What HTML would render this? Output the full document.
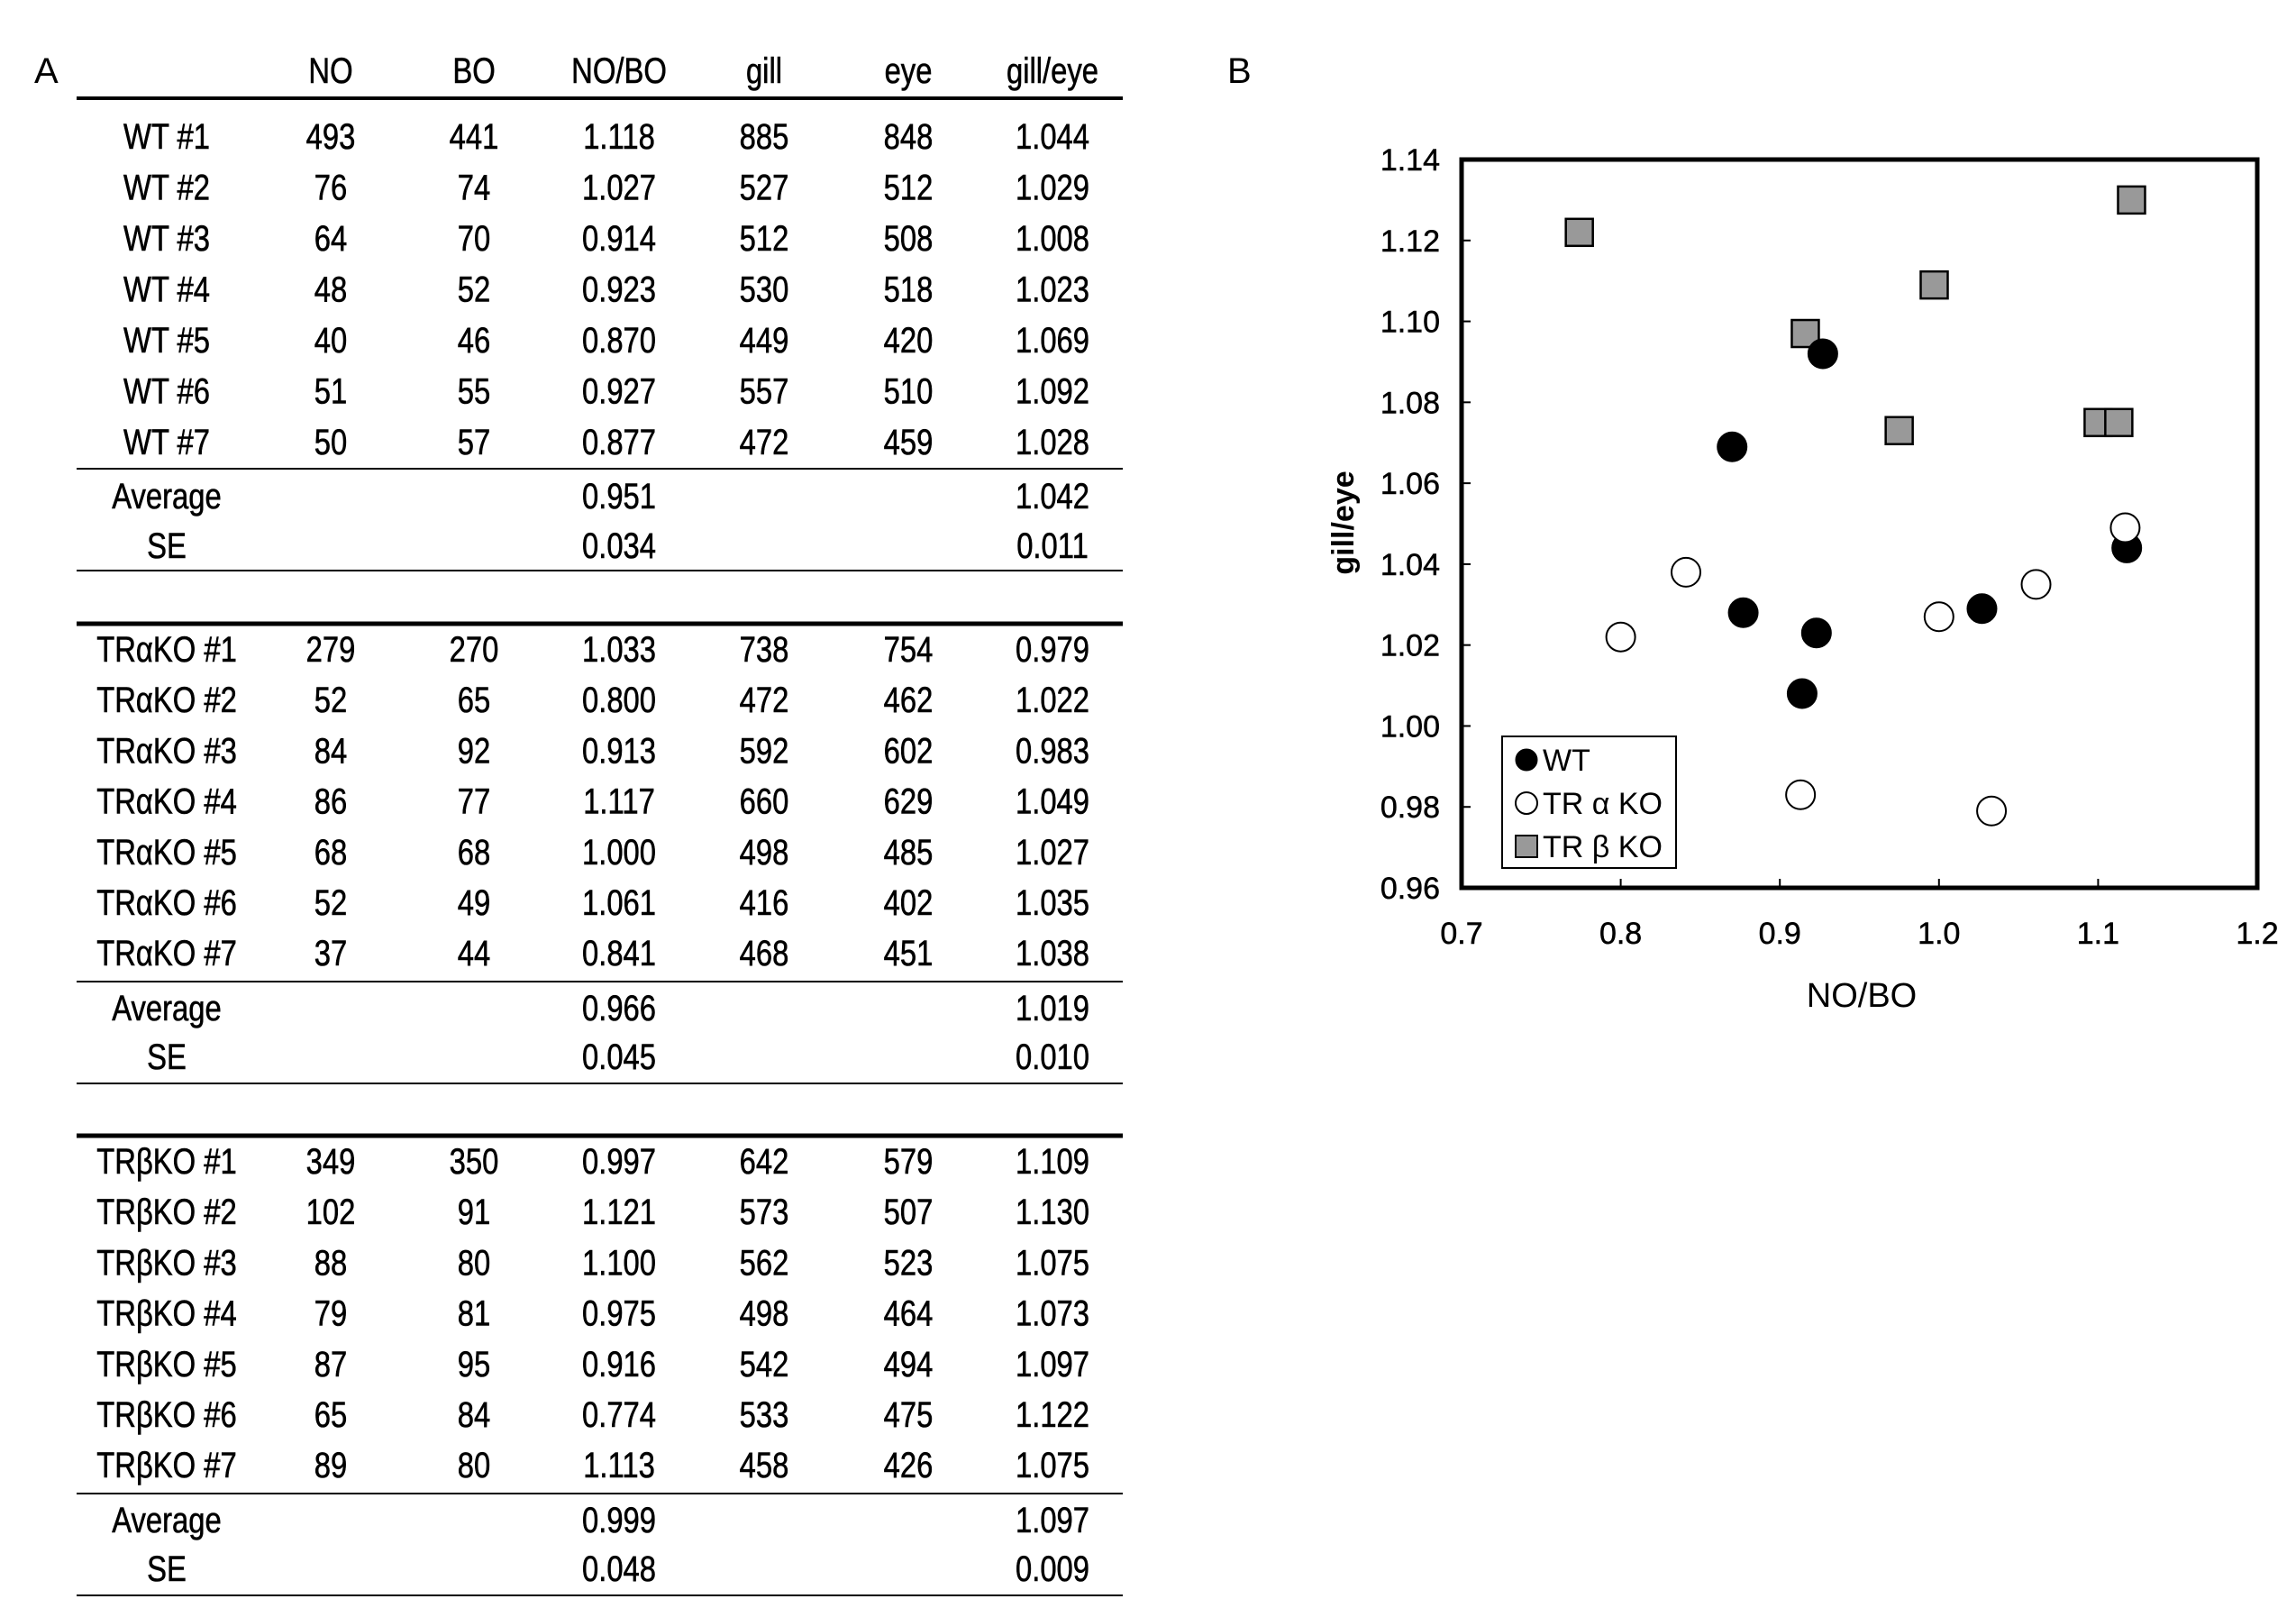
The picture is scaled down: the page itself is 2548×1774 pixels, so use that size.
<!DOCTYPE html>
<html><head><meta charset="utf-8"><style>
html,body{margin:0;padding:0;background:#fff;}
svg{display:block;font-family:"Liberation Sans","Noto Sans CJK JP",sans-serif;}
</style></head><body>
<svg id="fig" width="2548" height="1774" viewBox="0 0 2548 1774">
<text x="38" y="92" font-size="40">A</text>
<text x="1362" y="92" font-size="40">B</text>
<g id="table"></g>
<g id="chart"></g>
</svg>
<script>
const NS="http://www.w3.org/2000/svg";
function mk(tag,attrs,parent){const e=document.createElementNS(NS,tag);for(const k in attrs)e.setAttribute(k,attrs[k]);parent.appendChild(e);return e;}

const headers=["NO","BO","NO/BO","gill","eye","gill/eye"];
const wtLabels=["WT #1","WT #2","WT #3","WT #4","WT #5","WT #6","WT #7"];
const taLabels=["TRαKO #1","TRαKO #2","TRαKO #3","TRαKO #4","TRαKO #5","TRαKO #6","TRαKO #7"];
const tbLabels=["TRβKO #1","TRβKO #2","TRβKO #3","TRβKO #4","TRβKO #5","TRβKO #6","TRβKO #7"];
const wtNO=[493,76,64,48,40,51,50], wtBO=[441,74,70,52,46,55,57];
const wtRatio=["1.118","1.027","0.914","0.923","0.870","0.927","0.877"];
const wtGill=[885,527,512,530,449,557,472], wtEye=[848,512,508,518,420,510,459];
const wtGE=["1.044","1.029","1.008","1.023","1.069","1.092","1.028"];
const wtStats=["0.951","1.042","0.034","0.011"];
const taNO=[279,52,84,86,68,52,37], taBO=[270,65,92,77,68,49,44];
const taRatio=["1.033","0.800","0.913","1.117","1.000","1.061","0.841"];
const taGill=[738,472,592,660,498,416,468], taEye=[754,462,602,629,485,402,451];
const taGE=["0.979","1.022","0.983","1.049","1.027","1.035","1.038"];
const taStats=["0.966","1.019","0.045","0.010"];
const tbNO=[349,102,88,79,87,65,89], tbBO=[350,91,80,81,95,84,80];
const tbRatio=["0.997","1.121","1.100","0.975","0.916","0.774","1.113"];
const tbGill=[642,573,562,498,542,533,458], tbEye=[579,507,523,464,494,475,426];
const tbGE=["1.109","1.130","1.075","1.073","1.097","1.122","1.075"];
const tbStats=["0.999","1.097","0.048","0.009"];

const xTicks=["0.7","0.8","0.9","1.0","1.1","1.2"];
const yTicks=["0.96","0.98","1.00","1.02","1.04","1.06","1.08","1.10","1.12","1.14"];

// ---- table ----
const T=document.getElementById('table');
const colX=[185,367,526,687,848,1008,1168];
function txt(x,y,s,name,parent){
  const t=mk('text',{transform:`translate(${x},${y}) scale(0.82,1)`,'text-anchor':'middle','font-size':40,stroke:'#000','stroke-width':0.6},parent);
  
  
  t.textContent=s;return t;}
function line(y,w,name){const l=mk('rect',{x:85,y:y-w/2,width:1161,height:w,fill:'#000'},T);
  
  }
headers.forEach((h,i)=>txt(colX[i+1],92,h,'header-'+h.replace('/','-'),T));
line(109,4,'table-top-rule');
(function(){const r0=153;
  wtLabels.forEach((lab,i)=>{const y=r0+12+i*56.5;
    txt(colX[0],y,lab,'wt-row-label',T);
    txt(colX[1],y,wtNO[i],'wt-no',T);txt(colX[2],y,wtBO[i],'wt-bo',T);
    txt(colX[3],y,wtRatio[i],'wt-ratio',T);txt(colX[4],y,wtGill[i],'wt-gill',T);
    txt(colX[5],y,wtEye[i],'wt-eye',T);txt(colX[6],y,wtGE[i],'wt-gill-eye',T);});
  line(520,2,'wt-stats-rule');
  txt(colX[0],564,'Average','wt-average-label',T);txt(colX[3],564,wtStats[0],'wt-avg-ratio',T);txt(colX[6],564,wtStats[1],'wt-avg-ge',T);
  txt(colX[0],619,'SE','wt-se-label',T);txt(colX[3],619,wtStats[2],'wt-se-ratio',T);txt(colX[6],619,wtStats[3],'wt-se-ge',T);
  line(633,2,'wt-bottom-rule');})();
function block2(top,labels,NO,BO,R,G,E,GE,S,key,thin,bottom){
  line(top,5,key+'-top-rule');
  labels.forEach((lab,i)=>{const y=top+42+i*56.2;
    txt(colX[0],y,lab,key+'-row-label',T);
    txt(colX[1],y,NO[i],key+'-no',T);txt(colX[2],y,BO[i],key+'-bo',T);
    txt(colX[3],y,R[i],key+'-ratio',T);txt(colX[4],y,G[i],key+'-gill',T);
    txt(colX[5],y,E[i],key+'-eye',T);txt(colX[6],y,GE[i],key+'-gill-eye',T);});
  line(thin,2,key+'-stats-rule');
  txt(colX[0],thin+43,'Average',key+'-average-label',T);txt(colX[3],thin+43,S[0],key+'-avg-ratio',T);txt(colX[6],thin+43,S[1],key+'-avg-ge',T);
  txt(colX[0],thin+97,'SE',key+'-se-label',T);txt(colX[3],thin+97,S[2],key+'-se-ratio',T);txt(colX[6],thin+97,S[3],key+'-se-ge',T);
  line(bottom,2,key+'-bottom-rule');
}
block2(692,taLabels,taNO,taBO,taRatio,taGill,taEye,taGE,taStats,'tra',1089,1202);
block2(1260,tbLabels,tbNO,tbBO,tbRatio,tbGill,tbEye,tbGE,tbStats,'trb',1657,1770);

// ---- chart ----
const C=document.getElementById('chart');
const L=1622,R=2505,TOP=177,BOT=985;
const xs=v=>L+(v-0.7)/0.5*(R-L);
const ys=v=>BOT-(v-0.96)/0.18*(BOT-TOP);
yTicks.forEach(s=>{const v=+s;const y=ys(v);
  const tk=mk('line',{x1:L,x2:L+10,y1:y,y2:y,stroke:'#000','stroke-width':2},C);
  
  const t=mk('text',{x:1598,y:y+12,'text-anchor':'end','font-size':34,stroke:'#000','stroke-width':0.5},C);
  t.textContent=s;});
xTicks.forEach(s=>{const x=xs(+s);
  const tk=mk('line',{x1:x,x2:x,y1:BOT,y2:BOT-10,stroke:'#000','stroke-width':2},C);
  
  const t=mk('text',{x:x,y:1047,'text-anchor':'middle','font-size':34,stroke:'#000','stroke-width':0.5},C);
  t.textContent=s;});
const xt=mk('text',{x:2066,y:1117,'text-anchor':'middle','font-size':38},C);
xt.textContent='NO/BO';
const yt=mk('text',{transform:'translate(1502,580) rotate(-90)','text-anchor':'middle','font-size':34,'font-weight':'bold'},C);
yt.textContent='gill/eye';

function sq(x,y,name){const s=mk('rect',{x:x-15,y:y-15,width:30,height:30,fill:'#999',stroke:'#000','stroke-width':2.5},C);
  }
function circ(x,y,fill,name){const c=mk('circle',{cx:x,cy:y,r:16,fill:fill,stroke:'#000','stroke-width':2},C);
  }
tbRatio.forEach((v,i)=>sq(xs(+v),ys(+tbGE[i]),'point-trbko'));
wtRatio.forEach((v,i)=>circ(xs(+v),ys(+wtGE[i]),'#000','point-wt'));
taRatio.forEach((v,i)=>circ(xs(+v),ys(+taGE[i]),'#fff','point-trako'));

const frame=mk('rect',{x:L,y:TOP,width:R-L,height:BOT-TOP,fill:'none',stroke:'#000','stroke-width':5},C);


const lg=mk('g',{},C);

const lb=mk('rect',{x:1667,y:817,width:193,height:146,fill:'#fff',stroke:'#000','stroke-width':2},lg);

const e1=mk('circle',{cx:1694,cy:843,r:12,fill:'#000',stroke:'#000'},lg);

const e2=mk('circle',{cx:1694,cy:891,r:12,fill:'#fff',stroke:'#000','stroke-width':2},lg);

const e3=mk('rect',{x:1682,y:927,width:24,height:24,fill:'#999',stroke:'#000','stroke-width':2},lg);

[["WT",855,'legend-label-wt'],["TR α KO",903,'legend-label-trako'],["TR β KO",951,'legend-label-trbko']].forEach(a=>{
  const t=mk('text',{x:1712,y:a[1],'font-size':34},lg);
  t.textContent=a[0];});
</script>
</body></html>
